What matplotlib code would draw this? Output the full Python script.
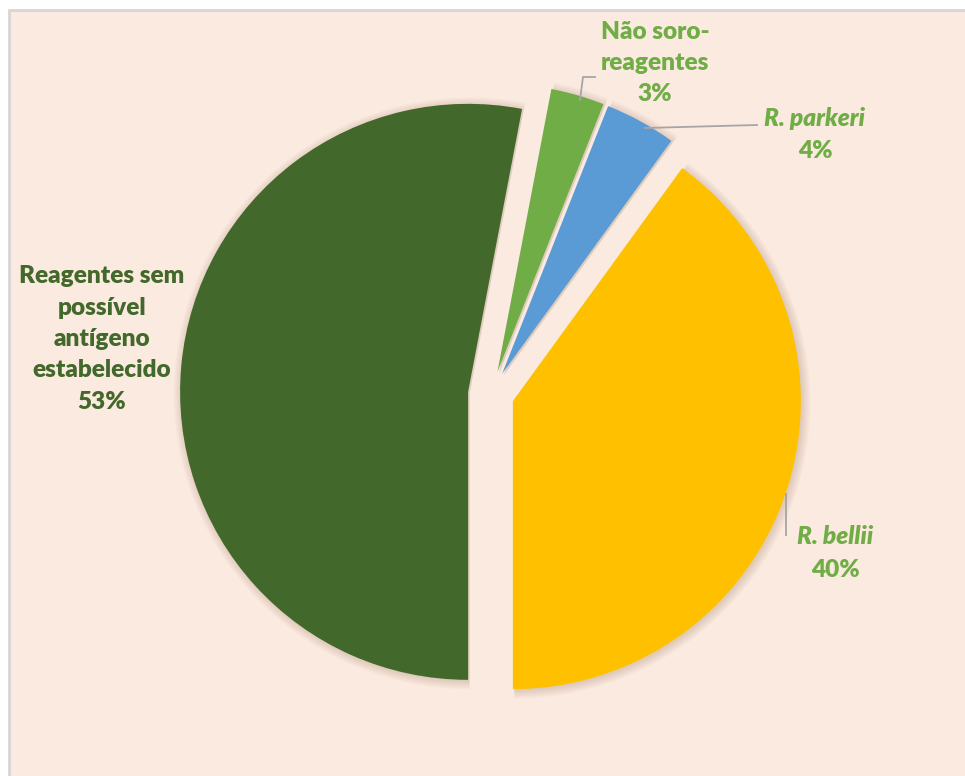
import matplotlib.pyplot as plt
from matplotlib.patches import Rectangle, Wedge

# slices, counterclockwise from 6 o'clock
names = ['R. bellii', 'R. parkeri', 'Não soro-reagentes', 'Reagentes sem possível antígeno estabelecido']
values = [40, 4, 3, 53]
colors = ['#FFC000', '#5B9BD5', '#70AD47', '#43682B']

bg = '#FBEADF'
lbl_green = '#70AD47'
dark_green = '#43682B'
lead = '#A6A6A6'

W, H = 965, 776
fig = plt.figure(figsize=(W/100, H/100), dpi=100, facecolor='white')
ax = fig.add_axes([0, 0, 1, 1])

# chart area (runs off the right/bottom edge)
ax.add_patch(Rectangle((8.5, -10), W + 10, H - 9.5 + 10, facecolor=bg,
                       edgecolor='#D6D6D6', linewidth=2, zorder=0))

cx, cy, R = 491, H - 394, 288
wedges, _ = ax.pie(values, colors=colors, startangle=-90, counterclock=True,
                   explode=[23]*4, center=(cx, cy), radius=R,
                   wedgeprops=dict(linewidth=0, zorder=3))
ax.set_xlim(0, W)
ax.set_ylim(0, H)
ax.set_aspect('equal')
ax.axis('off')

# soft shadow round each slice
for w in wedges:
    x0, y0 = w.center
    for i in range(7):
        ax.add_patch(Wedge((x0 + 1.5, y0 - 1.5), w.r + i*1.3, w.theta1, w.theta2,
                           facecolor='#8a6a50', alpha=0.035, linewidth=0, zorder=2))

font = 'Lato'
fs = 17.6
ls = 1.52

ax.text(102, H - 339, 'Reagentes sem\npossível\nantígeno\nestabelecido\n53%',
        ha='center', va='center', color=dark_green, fontsize=fs, fontweight='heavy',
        family=font, linespacing=ls, zorder=5)

ax.text(655, H - 63, 'Não soro-\nreagentes\n3%', ha='center', va='center',
        color=lbl_green, fontsize=fs, fontweight='heavy', family=font,
        linespacing=ls, zorder=5)
ax.plot([595, 583, 580], [H - 77, H - 77, H - 100], color=lead, lw=1.3, zorder=4)

ax.text(815, H - 118, 'R. parkeri', ha='center', va='center', color=lbl_green,
        fontsize=fs, fontweight='heavy', style='italic', family=font, zorder=5)
ax.text(815, H - 151, '4%', ha='center', va='center', color=lbl_green,
        fontsize=fs, fontweight='heavy', family=font, zorder=5)
ax.plot([645, 757], [H - 128, H - 125], color=lead, lw=1.3, zorder=4)

ax.text(835, H - 537, 'R. bellii', ha='center', va='center', color=lbl_green,
        fontsize=fs, fontweight='heavy', style='italic', family=font, zorder=5)
ax.text(835, H - 570, '40%', ha='center', va='center', color=lbl_green,
        fontsize=fs, fontweight='heavy', family=font, zorder=5)
ax.plot([786, 786], [H - 494, H - 535], color=lead, lw=1.3, zorder=4)

fig.savefig('out.png', dpi=100, facecolor='white')
